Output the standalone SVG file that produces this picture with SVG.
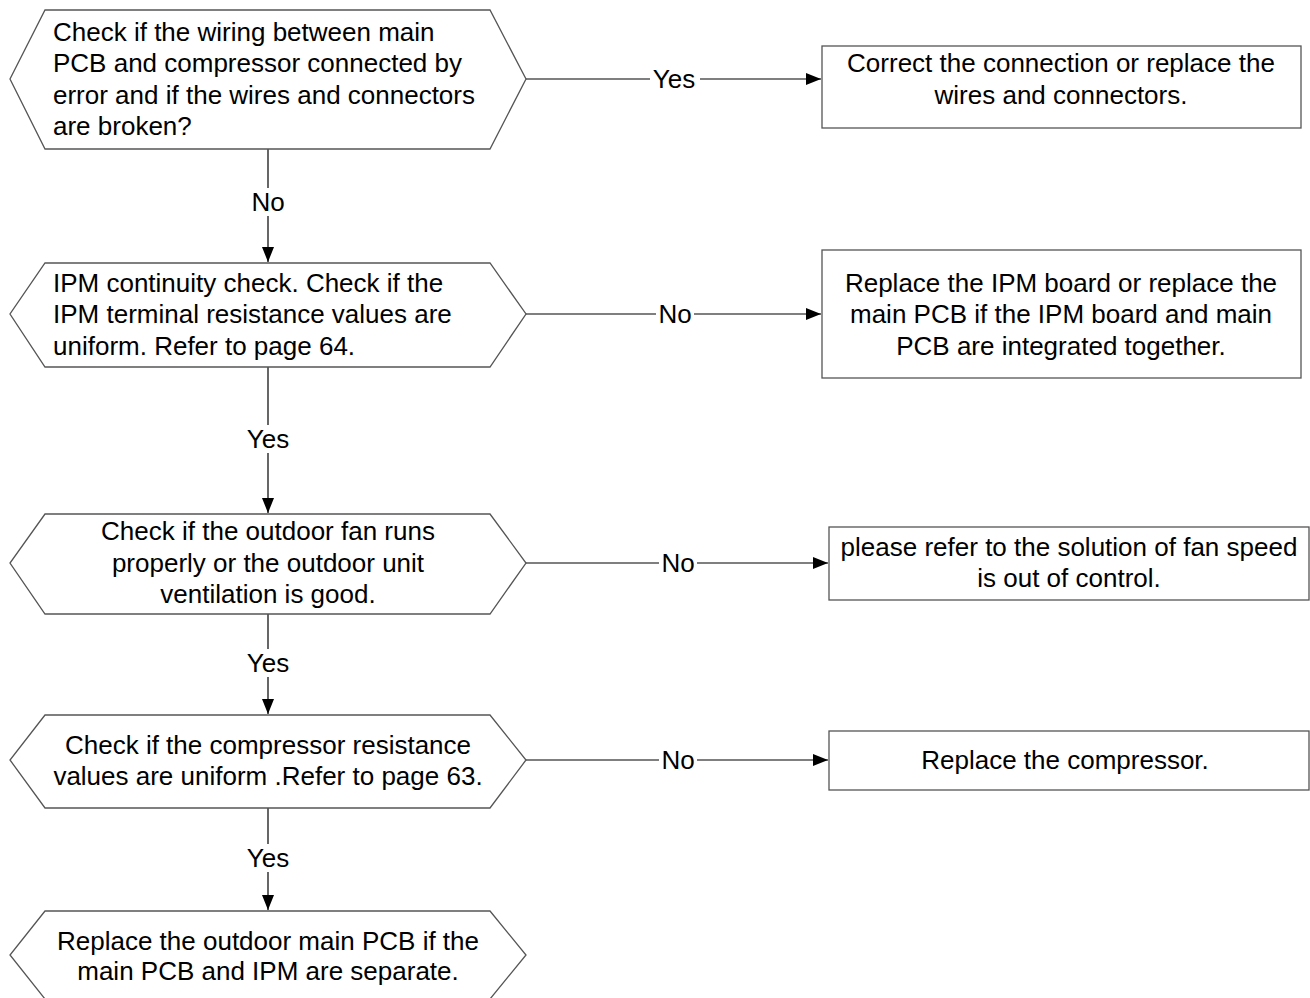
<svg xmlns="http://www.w3.org/2000/svg" width="1310" height="998" viewBox="0 0 1310 998">
<style>
.shape{fill:#fff;stroke:#555;stroke-width:1.3}
.t{font-family:"Liberation Sans",Arial,sans-serif;font-size:26px;fill:#000}
.c{text-anchor:middle}
.line{stroke:#000;stroke-width:1.2;fill:none}
.lbl{font-family:"Liberation Sans",Arial,sans-serif;font-size:26px;fill:#000;text-anchor:middle}
.bg{fill:#fff}
</style>
<defs>
<marker id="arr" viewBox="0 0 15 12" refX="15" refY="6" markerWidth="15" markerHeight="12" markerUnits="userSpaceOnUse" orient="auto">
<path d="M0,0 L15,6 L0,12 Z" fill="#000"/>
</marker>
</defs>
<rect width="1310" height="998" fill="#fff"/>
<g id="connectors">
<line class="line" x1="268" y1="149" x2="268" y2="262" marker-end="url(#arr)"/>
<rect class="bg" x="248" y="188" width="40" height="28"/>
<text class="lbl" x="268" y="211">No</text>
<line class="line" x1="268" y1="367" x2="268" y2="513" marker-end="url(#arr)"/>
<rect class="bg" x="242" y="425" width="52" height="28"/>
<text class="lbl" x="268" y="448">Yes</text>
<line class="line" x1="268" y1="614" x2="268" y2="714" marker-end="url(#arr)"/>
<rect class="bg" x="242" y="649" width="52" height="28"/>
<text class="lbl" x="268" y="672">Yes</text>
<line class="line" x1="268" y1="808" x2="268" y2="910" marker-end="url(#arr)"/>
<rect class="bg" x="242" y="844" width="52" height="28"/>
<text class="lbl" x="268" y="867">Yes</text>
<line class="line" x1="526" y1="79" x2="821" y2="79" marker-end="url(#arr)"/>
<rect class="bg" x="650" y="65" width="50" height="28"/>
<text class="lbl" x="674" y="88">Yes</text>
<line class="line" x1="526" y1="314" x2="821" y2="314" marker-end="url(#arr)"/>
<rect class="bg" x="656" y="300" width="38" height="28"/>
<text class="lbl" x="675" y="323">No</text>
<line class="line" x1="526" y1="563" x2="828" y2="563" marker-end="url(#arr)"/>
<rect class="bg" x="659" y="549" width="38" height="28"/>
<text class="lbl" x="678" y="572">No</text>
<line class="line" x1="526" y1="760" x2="828" y2="760" marker-end="url(#arr)"/>
<rect class="bg" x="659" y="746" width="38" height="28"/>
<text class="lbl" x="678" y="769">No</text>
</g>
<g id="n1">
<polygon class="shape" points="45,10 490,10 526,79 490,149 45,149 10,79"/>
<text class="t" x="53" y="41">Check if the wiring between main</text>
<text class="t" x="53" y="72">PCB and compressor connected by</text>
<text class="t" x="53" y="104">error and if the wires and connectors</text>
<text class="t" x="53" y="135">are broken?</text>
</g>
<g id="n2">
<rect class="shape" x="822" y="46" width="479" height="82"/>
<text class="t c" x="1061" y="72">Correct the connection or replace the</text>
<text class="t c" x="1061" y="104">wires and connectors.</text>
</g>
<g id="n3">
<polygon class="shape" points="45,263 490,263 526,314 490,367 45,367 10,314"/>
<text class="t" x="53" y="292">IPM continuity check. Check if the</text>
<text class="t" x="53" y="323">IPM terminal resistance values are</text>
<text class="t" x="53" y="355">uniform. Refer to page 64.</text>
</g>
<g id="n4">
<rect class="shape" x="822" y="250" width="479" height="128"/>
<text class="t c" x="1061" y="292">Replace the IPM board or replace the</text>
<text class="t c" x="1061" y="323">main PCB if the IPM board and main</text>
<text class="t c" x="1061" y="355">PCB are integrated together.</text>
</g>
<g id="n5">
<polygon class="shape" points="45,514 490,514 526,563 490,614 45,614 10,563"/>
<text class="t c" x="268" y="540">Check if the outdoor fan runs</text>
<text class="t c" x="268" y="572">properly or the outdoor unit</text>
<text class="t c" x="268" y="603">ventilation is good.</text>
</g>
<g id="n6">
<rect class="shape" x="829" y="527" width="480" height="73"/>
<text class="t c" x="1069" y="556">please refer to the solution of fan speed</text>
<text class="t c" x="1069" y="587">is out of control.</text>
</g>
<g id="n7">
<polygon class="shape" points="45,715 490,715 526,760 490,808 45,808 10,760"/>
<text class="t c" x="268" y="754">Check if the compressor resistance</text>
<text class="t c" x="268" y="785">values are uniform .Refer to page 63.</text>
</g>
<g id="n8">
<rect class="shape" x="829" y="731" width="480" height="59"/>
<text class="t c" x="1065" y="769">Replace the compressor.</text>
</g>
<g id="n9">
<polygon class="shape" points="45,911 490,911 526,955 490,999 45,999 10,955"/>
<text class="t c" x="268" y="950">Replace the outdoor main PCB if the</text>
<text class="t c" x="268" y="980">main PCB and IPM are separate.</text>
</g>
</svg>
